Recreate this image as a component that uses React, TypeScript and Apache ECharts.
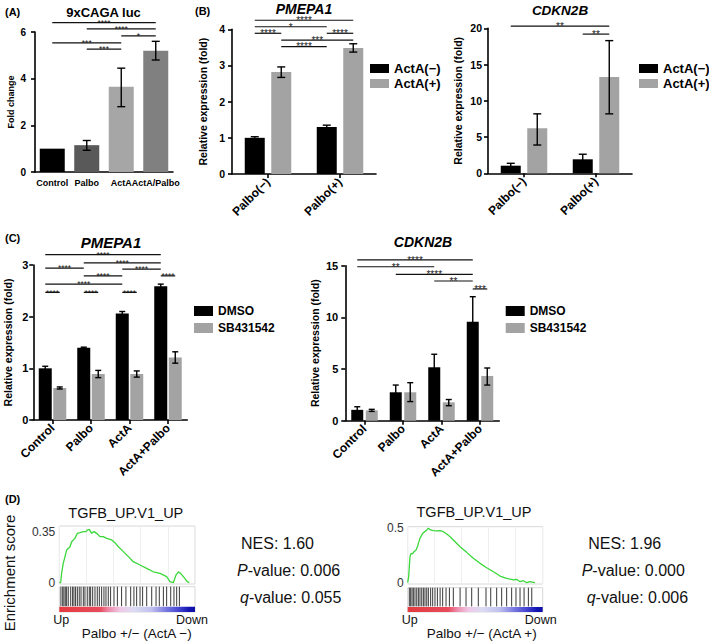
import React, { useEffect, useRef } from "react";
import * as echarts from "echarts";

// ================= DATA =================
// (A) 9xCAGA luc
const aCategories = ["Control", "Palbo", "ActA", "ActA/Palbo"];
const aMeans = [1.0, 1.15, 3.65, 5.2];
const aErrLow = [1.0, 0.93, 2.8, 4.8];
const aErrHigh = [1.0, 1.35, 4.45, 5.6];
// [cat1, series1, cat2, series2, height, label]
const aSig = [
  [0, 0, 3, 0, 6.4, "****"],
  [1, 0, 3, 0, 6.13, "****"],
  [2, 0, 3, 0, 5.83, "*"],
  [0, 0, 2, 0, 5.53, "***"],
  [1, 0, 2, 0, 5.27, "***"],
];

// (B) Palbo +/- ActA
const bCategories = ["Palbo(−)", "Palbo(+)"];
const bSeriesNames = ["ActA(−)", "ActA(+)"];
const bPmepaNegMean = [1.0, 1.3];
const bPmepaNegLow = [0.97, 1.25];
const bPmepaNegHigh = [1.03, 1.35];
const bPmepaPosMean = [2.82, 3.48];
const bPmepaPosLow = [2.67, 3.37];
const bPmepaPosHigh = [2.96, 3.6];
const bPmepaSig = [
  [0, 0, 1, 1, 4.25, "****"],
  [0, 0, 1, 0, 4.07, "*"],
  [0, 0, 0, 1, 3.89, "****"],
  [1, 0, 1, 1, 3.89, "****"],
  [0, 1, 1, 1, 3.7, "***"],
  [0, 1, 1, 0, 3.52, "****"],
];
const bCdknNegMean = [1.05, 1.93];
const bCdknNegLow = [0.72, 1.23];
const bCdknNegHigh = [1.38, 2.63];
const bCdknPosMean = [6.2, 13.3];
const bCdknPosLow = [3.9, 8.2];
const bCdknPosHigh = [8.2, 18.3];
const bCdknSig = [
  [0, 0, 1, 1, 20.3, "**"],
  [1, 0, 1, 1, 19.2, "**"],
];

// (C) DMSO vs SB431542
const cCategories = ["Control", "Palbo", "ActA", "ActA+Palbo"];
const cSeriesNames = ["DMSO", "SB431542"];
const cPmepaDmsoMean = [1.0, 1.4, 2.06, 2.59];
const cPmepaDmsoLow = [0.96, 1.39, 2.02, 2.55];
const cPmepaDmsoHigh = [1.04, 1.41, 2.1, 2.63];
const cPmepaSbMean = [0.62, 0.89, 0.89, 1.21];
const cPmepaSbLow = [0.6, 0.82, 0.83, 1.1];
const cPmepaSbHigh = [0.64, 0.96, 0.95, 1.32];
const cPmepaSig = [
  [0, 0, 3, 0, 3.2, "****"],
  [1, 0, 3, 0, 3.04, "****"],
  [0, 0, 1, 0, 2.94, "****"],
  [2, 0, 3, 0, 2.92, "****"],
  [1, 0, 2, 0, 2.79, "****"],
  [3, 0, 3, 1, 2.79, "****"],
  [0, 0, 2, 0, 2.63, "****"],
  [0, 0, 0, 1, 2.47, "****"],
  [1, 0, 1, 1, 2.47, "****"],
  [2, 0, 2, 1, 2.47, "****"],
];
const cCdknDmsoMean = [1.05, 2.75, 5.17, 9.58];
const cCdknDmsoLow = [0.75, 2.05, 3.9, 7.15];
const cCdknDmsoHigh = [1.35, 3.45, 6.43, 12.0];
const cCdknSbMean = [1.0, 2.75, 1.78, 4.33];
const cCdknSbLow = [0.9, 1.85, 1.45, 3.45];
const cCdknSbHigh = [1.1, 3.68, 2.05, 5.1];
const cCdknSig = [
  [0, 0, 3, 0, 15.56, "****"],
  [0, 0, 2, 0, 14.9, "**"],
  [1, 0, 3, 0, 14.17, "****"],
  [2, 0, 3, 0, 13.52, "**"],
  [3, 0, 3, 1, 12.75, "***"],
];

// (D) GSEA TGFB_UP.V1_UP
const dLeftRank = [0, 1.0, 1.7, 2.9, 4.2, 5.4, 7.9, 9.1, 11.5, 13.3, 15.2, 17.7, 19.7, 20.6, 22.1, 23.8, 25.6, 27.5, 30, 32.4, 34.9, 38.6, 41, 43.5, 47.2, 50.9, 54.5, 59.5, 64.4, 69.3, 74.2, 79.1, 81.6, 84, 86, 87.7, 89.4, 91.4, 94.3, 95.8];
const dLeftES = [0, 0.0, 0.065, 0.134, 0.181, 0.227, 0.25, 0.285, 0.308, 0.343, 0.348, 0.355, 0.355, 0.366, 0.371, 0.343, 0.355, 0.343, 0.32, 0.32, 0.308, 0.297, 0.278, 0.25, 0.216, 0.181, 0.146, 0.123, 0.1, 0.076, 0.065, 0.042, 0.007, 0.0, 0.053, 0.076, 0.065, 0.042, 0.007, 0.0];
const dLeftHits = [1.2, 2.5, 3.4, 4.4, 5.4, 6.6, 8.4, 9.8, 10.8, 12, 13.3, 14.7, 16, 17.7, 18.9, 20.6, 22.1, 23.1, 24.6, 26.3, 28, 29.5, 31.2, 32.9, 34.4, 36.1, 37.8, 40.3, 42.8, 45.9, 49.1, 52.6, 55, 57, 59.5, 61.4, 64.4, 68.1, 71.3, 73.7, 76.7, 79.1, 82.1, 84.5, 86.5, 88.5];
const dLeftStats = ["NES: 1.60", "{i|P}-value: 0.006", "{i|q}-value: 0.055"];

const dRightRank = [0, 0.7, 1.2, 1.7, 2.5, 3.5, 4.7, 6.2, 7.2, 7.9, 9.1, 10.4, 11.6, 13.6, 15.3, 17, 19, 21.5, 24, 26.4, 28.9, 31.4, 35.1, 38.8, 43.7, 48.6, 53.6, 58.5, 63.5, 68.4, 73.3, 78.3, 80.7, 83.2, 85.7, 88.1, 90.6, 93.1, 94.3];
const dRightES = [0, 0.055, 0.147, 0.239, 0.27, 0.264, 0.285, 0.3, 0.331, 0.362, 0.408, 0.439, 0.46, 0.479, 0.5, 0.485, 0.479, 0.476, 0.479, 0.469, 0.448, 0.423, 0.377, 0.331, 0.279, 0.224, 0.178, 0.138, 0.101, 0.061, 0.04, 0.025, 0.031, 0.009, 0.018, 0.0, 0.009, 0.003, 0.0];
const dRightHits = [1.2, 2.2, 3.2, 4.2, 5.4, 6.7, 7.9, 9.1, 10.4, 11.6, 12.8, 14.1, 15.3, 17, 18.5, 20.2, 22, 24, 25.9, 28.4, 30.9, 33.8, 38.8, 43.2, 47.4, 52.3, 58, 61.5, 65.9, 69.6, 73.3, 77, 80.2, 83.2, 86.2, 89.4, 91.9];
const dRightStats = ["NES: 1.96", "{i|P}-value: 0.000", "{i|q}-value: 0.006"];

// ================= STYLE =================
const FONT = "'Liberation Sans', Arial, Helvetica, sans-serif";
const BLACK = "#000000";
const GRAY = "#a3a3a3";
const aColors = ["#000000", "#595959", "#a6a6a6", "#808080"];

type SeriesDef = { name?: string; color: string; colors?: string[]; mean: number[]; lo: number[]; hi: number[] };
type PanelDef = {
  cats: string[];
  series: SeriesDef[];
  sig: any[];
  grid: { left: number; top: number; width: number; height: number };
  yMax: number;
  yInterval: number;
  yName: string;
  nameGap: number;
  nameSize: number;
  barW: number;
  gapPx: number;
  rotate: number;
  labelSize: number;
  labelMargin: number;
  tickSize: number;
  tickMargin: number;
  starSize: number;
  showXTicks: boolean;
  capW: number;
};

function buildOption() {
  const grids: any[] = [];
  const xAxes: any[] = [];
  const yAxes: any[] = [];
  const series: any[] = [];

  const axisLineStyle = { color: "#000", width: 1.6 };

  function addBarPanel(p: PanelDef) {
    const gi = grids.length;
    grids.push({ ...p.grid });
    xAxes.push({
      type: "category",
      gridIndex: gi,
      data: p.cats,
      axisLine: { lineStyle: axisLineStyle },
      axisTick: { show: p.showXTicks, alignWithLabel: true, length: 4, lineStyle: axisLineStyle },
      axisLabel: {
        interval: 0,
        rotate: p.rotate,
        margin: p.labelMargin,
        color: "#000",
        fontWeight: "bold",
        fontSize: p.labelSize,
        fontFamily: FONT,
      },
      splitLine: { show: false },
    });
    yAxes.push({
      type: "value",
      gridIndex: gi,
      min: 0,
      max: p.yMax,
      interval: p.yInterval,
      axisLine: { show: true, lineStyle: axisLineStyle },
      axisTick: { show: true, length: 4, lineStyle: axisLineStyle },
      axisLabel: { color: "#000", fontWeight: "bold", fontSize: p.tickSize, fontFamily: FONT, margin: p.tickMargin },
      splitLine: { show: false },
      name: p.yName,
      nameLocation: "middle",
      nameGap: p.nameGap,
      nameTextStyle: { color: "#000", fontWeight: "bold", fontSize: p.nameSize, fontFamily: FONT },
    });
    const n = p.series.length;
    const step = p.barW + p.gapPx;
    const offOf = (si: number) => (si - (n - 1) / 2) * step;
    p.series.forEach((s, si) => {
      series.push({
        type: "bar",
        name: s.name,
        xAxisIndex: gi,
        yAxisIndex: gi,
        barWidth: p.barW,
        barGap: (p.gapPx / p.barW) * 100 + "%",
        itemStyle: { color: s.color },
        silent: true,
        data: s.mean.map((v, i) => (s.colors ? { value: v, itemStyle: { color: s.colors[i] } } : v)),
      });
      const off = offOf(si);
      const lo = s.lo;
      const hi = s.hi;
      series.push({
        type: "custom",
        xAxisIndex: gi,
        yAxisIndex: gi,
        silent: true,
        z: 5,
        encode: { x: 0, y: [1, 2] },
        data: lo.map((l, i) => [i, l, hi[i]]),
        renderItem: (params: any, api: any) => {
          const c = api.value(0);
          const l = api.value(1);
          const h = api.value(2);
          if (h - l <= 0) return { type: "group", children: [] };
          const a = api.coord([c, l]);
          const b = api.coord([c, h]);
          const x = a[0] + off;
          const cw = p.capW / 2;
          const st = { stroke: "#000", lineWidth: 1.4 };
          return {
            type: "group",
            children: [
              { type: "line", shape: { x1: x, y1: a[1], x2: x, y2: b[1] }, style: st },
              { type: "line", shape: { x1: x - cw, y1: b[1], x2: x + cw, y2: b[1] }, style: st },
              { type: "line", shape: { x1: x - cw, y1: a[1], x2: x + cw, y2: a[1] }, style: st },
            ],
          };
        },
      });
    });
    series.push({
      type: "custom",
      xAxisIndex: gi,
      yAxisIndex: gi,
      silent: true,
      z: 6,
      clip: false,
      encode: { x: 0, y: 1 },
      data: p.sig.map((s) => [s[0], s[4]]),
      renderItem: (params: any, api: any) => {
        const s = p.sig[params.dataIndex];
        const p1 = api.coord([s[0], s[4]]);
        const p2 = api.coord([s[2], s[4]]);
        const x1 = p1[0] + offOf(s[1]);
        const x2 = p2[0] + offOf(s[3]);
        const y = p1[1];
        return {
          type: "group",
          children: [
            { type: "line", shape: { x1, y1: y, x2, y2: y }, style: { stroke: "#111", lineWidth: 1.2 } },
            {
              type: "text",
              x: (x1 + x2) / 2,
              y: y + 0.3,
              style: {
                text: s[5],
                fill: "#1a1a1a",
                fontSize: p.starSize,
                fontFamily: FONT,
                align: "center",
                verticalAlign: "middle",
              },
            },
          ],
        };
      },
    });
  }

  // ---------- (A)
  addBarPanel({
    cats: aCategories,
    series: [{ color: aColors[0], colors: aColors, mean: aMeans, lo: aErrLow, hi: aErrHigh }],
    sig: aSig,
    grid: { left: 35, top: 32, width: 138, height: 140 },
    yMax: 6,
    yInterval: 2,
    yName: "Fold change",
    nameGap: 20,
    nameSize: 9,
    barW: 25,
    gapPx: 0,
    rotate: 0,
    labelSize: 9,
    labelMargin: 6,
    tickSize: 10,
    tickMargin: 9,
    starSize: 8.5,
    showXTicks: false,
    capW: 8,
  });
  // ---------- (B) PMEPA1
  const bCommon = {
    cats: bCategories,
    yName: "Relative expression (fold)",
    nameGap: 24,
    nameSize: 10.5,
    barW: 20,
    gapPx: 6.5,
    rotate: 45,
    labelSize: 12,
    labelMargin: 6,
    tickSize: 10.5,
    tickMargin: 7,
    starSize: 10,
    showXTicks: true,
    capW: 8,
  };
  addBarPanel({
    ...bCommon,
    series: [
      { name: bSeriesNames[0], color: BLACK, mean: bPmepaNegMean, lo: bPmepaNegLow, hi: bPmepaNegHigh },
      { name: bSeriesNames[1], color: GRAY, mean: bPmepaPosMean, lo: bPmepaPosLow, hi: bPmepaPosHigh },
    ],
    sig: bPmepaSig,
    grid: { left: 232, top: 29.3, width: 144, height: 144.7 },
    yMax: 4,
    yInterval: 1,
  });
  addBarPanel({
    ...bCommon,
    nameGap: 25,
    tickMargin: 6,
    series: [
      { name: bSeriesNames[0], color: BLACK, mean: bCdknNegMean, lo: bCdknNegLow, hi: bCdknNegHigh },
      { name: bSeriesNames[1], color: GRAY, mean: bCdknPosMean, lo: bCdknPosLow, hi: bCdknPosHigh },
    ],
    sig: bCdknSig,
    grid: { left: 488, top: 28.3, width: 144, height: 145 },
    yMax: 20,
    yInterval: 5,
  });
  // ---------- (C)
  const cCommon = {
    cats: cCategories,
    yName: "Relative expression (fold)",
    nameSize: 10.5,
    gapPx: 1.5,
    rotate: 45,
    labelSize: 12,
    labelMargin: 6,
    tickSize: 11,
    starSize: 8.5,
    showXTicks: true,
    capW: 6,
  };
  addBarPanel({
    ...cCommon,
    series: [
      { name: cSeriesNames[0], color: BLACK, mean: cPmepaDmsoMean, lo: cPmepaDmsoLow, hi: cPmepaDmsoHigh },
      { name: cSeriesNames[1], color: GRAY, mean: cPmepaSbMean, lo: cPmepaSbLow, hi: cPmepaSbHigh },
    ],
    sig: cPmepaSig,
    grid: { left: 33.25, top: 265, width: 154, height: 155 },
    yMax: 3,
    yInterval: 1,
    nameGap: 20,
    barW: 13,
    tickMargin: 5,
  });
  addBarPanel({
    ...cCommon,
    series: [
      { name: cSeriesNames[0], color: BLACK, mean: cCdknDmsoMean, lo: cCdknDmsoLow, hi: cCdknDmsoHigh },
      { name: cSeriesNames[1], color: GRAY, mean: cCdknSbMean, lo: cCdknSbLow, hi: cCdknSbHigh },
    ],
    sig: cCdknSig,
    grid: { left: 345.25, top: 265.7, width: 154, height: 155 },
    yMax: 15,
    yInterval: 5,
    nameGap: 25,
    barW: 12,
    gapPx: 2.5,
    tickMargin: 7,
    starSize: 10,
  });

  // ---------- (D) GSEA
  function addGsea(
    rank: number[],
    es: number[],
    hits: number[],
    esGrid: any,
    hitGrid: any,
    yMin: number,
    yMax: number,
    yLabels: number[]
  ) {
    const gi = grids.length;
    grids.push({ ...esGrid, show: true, borderColor: "#d8d8d8", borderWidth: 1 });
    xAxes.push({
      type: "value",
      gridIndex: gi,
      min: 0,
      max: 100,
      interval: 20,
      axisLine: { show: false },
      axisTick: { show: false },
      axisLabel: { show: false },
      splitLine: { show: true, lineStyle: { color: "#efefef", width: 1 } },
    });
    yAxes.push({
      type: "value",
      gridIndex: gi,
      min: yMin,
      max: yMax,
      axisLine: { show: false },
      axisTick: { show: false },
      splitLine: { show: false },
      axisLabel: {
        customValues: yLabels,
        color: "#333",
        fontSize: 12,
        fontFamily: FONT,
        margin: 4,
      },
    });
    series.push({
      type: "line",
      xAxisIndex: gi,
      yAxisIndex: gi,
      showSymbol: false,
      silent: true,
      lineStyle: { color: "#3ad83a", width: 1.3 },
      itemStyle: { color: "#3ad83a" },
      data: rank.map((r, i) => [r, es[i]]),
    });
    const hi = grids.length;
    grids.push({ ...hitGrid, show: true, borderColor: "#d8d8d8", borderWidth: 1 });
    xAxes.push({ type: "value", gridIndex: hi, min: 0, max: 100, show: false });
    yAxes.push({ type: "value", gridIndex: hi, min: 0, max: 1, show: false });
    series.push({
      type: "custom",
      xAxisIndex: hi,
      yAxisIndex: hi,
      silent: true,
      encode: { x: 0, y: 1 },
      data: [[0, 0.21, 100]],
      renderItem: (params: any, api: any) => {
        const a = api.coord([api.value(0), api.value(1)]);
        const b = api.coord([api.value(2), 0]);
        return {
          type: "rect",
          shape: { x: a[0], y: a[1], width: b[0] - a[0], height: b[1] - a[1] },
          style: {
            fill: new echarts.graphic.LinearGradient(0, 0, 1, 0, [
              { offset: 0, color: "#e5393f" },
              { offset: 0.3, color: "#e84b5c" },
              { offset: 0.37, color: "#ee8fb0" },
              { offset: 0.45, color: "#f0c8e6" },
              { offset: 0.55, color: "#dcdcf4" },
              { offset: 0.68, color: "#c0c0ef" },
              { offset: 0.78, color: "#7d7de3" },
              { offset: 0.88, color: "#4545d2" },
              { offset: 0.96, color: "#1212b0" },
              { offset: 1, color: "#1010a8" },
            ]),
          },
        };
      },
    });
    series.push({
      type: "custom",
      xAxisIndex: hi,
      yAxisIndex: hi,
      silent: true,
      encode: { x: 0, y: 1 },
      data: hits.map((h) => [h, 1]),
      renderItem: (params: any, api: any) => {
        const t = api.coord([api.value(0), 1]);
        const b = api.coord([api.value(0), 0.23]);
        return {
          type: "line",
          shape: { x1: t[0], y1: t[1], x2: b[0], y2: b[1] },
          style: { stroke: "#222", lineWidth: 0.9 },
        };
      },
    });
  }
  addGsea(
    dLeftRank,
    dLeftES,
    dLeftHits,
    { left: 59.3, top: 526, width: 135.7, height: 58 },
    { left: 59.3, top: 586.7, width: 135.7, height: 25.3 },
    -0.009,
    0.394,
    [0, 0.35]
  );
  addGsea(
    dRightRank,
    dRightES,
    dRightHits,
    { left: 407.7, top: 526.7, width: 135, height: 57.3 },
    { left: 407.7, top: 587.7, width: 135, height: 24.3 },
    -0.012,
    0.515,
    [0, 0.5]
  );

  // ---------- texts
  const txt = (text: string, x: number, y: number, size: number, opts: any = {}) => ({
    type: "text",
    x,
    y,
    rotation: opts.rotation || 0,
    silent: true,
    style: {
      text,
      fill: opts.fill || "#000",
      fontSize: size,
      fontFamily: FONT,
      fontWeight: opts.weight || "normal",
      fontStyle: opts.style || "normal",
      align: opts.align || "left",
      verticalAlign: "middle",
      rich: opts.rich,
    },
  });
  const richI = (size: number) => ({ i: { fontStyle: "italic", fontSize: size, fontFamily: FONT, fill: "#111" } });

  const elements = [
    txt("(A)", 5, 11.5, 11, { weight: "bold" }),
    txt("9xCAGA luc", 103.5, 12, 13, { weight: "bold", align: "center" }),
    txt("(B)", 195, 11, 11, { weight: "bold" }),
    txt("PMEPA1", 304, 8.5, 14, { weight: "bold", style: "italic", align: "center" }),
    txt("CDKN2B", 560, 10, 13.5, { weight: "bold", style: "italic", align: "center" }),
    txt("(C)", 5, 237.5, 11, { weight: "bold" }),
    txt("PMEPA1", 111, 242.5, 15, { weight: "bold", style: "italic", align: "center" }),
    txt("CDKN2B", 423, 242, 14, { weight: "bold", style: "italic", align: "center" }),
    txt("(D)", 5, 499, 11, { weight: "bold" }),
    txt("TGFB_UP.V1_UP", 125.8, 512.7, 14.5, { align: "center", fill: "#111" }),
    txt("TGFB_UP.V1_UP", 474, 512, 14.5, { align: "center", fill: "#111" }),
    txt("Enrichment score", 9.5, 573, 15, { align: "center", rotation: Math.PI / 2, fill: "#111" }),
    txt("Up", 53.3, 619.5, 12.5, { fill: "#111" }),
    txt("Down", 208, 619.5, 12.5, { align: "right", fill: "#111" }),
    txt("Palbo +/− (ActA −)", 136.7, 633, 13.5, { align: "center", fill: "#111" }),
    txt("Up", 401.7, 619.5, 12.5, { fill: "#111" }),
    txt("Down", 556.7, 619.5, 12.5, { align: "right", fill: "#111" }),
    txt("Palbo +/− (ActA +)", 481.7, 633, 13.5, { align: "center", fill: "#111" }),
    txt(dLeftStats[0], 241, 543.3, 16, { fill: "#111" }),
    txt(dLeftStats[1], 237, 570.7, 16, { fill: "#111", rich: richI(16) }),
    txt(dLeftStats[2], 240, 597.3, 16, { fill: "#111", rich: richI(16) }),
    txt(dRightStats[0], 588.3, 543.3, 16, { fill: "#111" }),
    txt(dRightStats[1], 581.7, 570.7, 16, { fill: "#111", rich: richI(16) }),
    txt(dRightStats[2], 586.7, 597.3, 16, { fill: "#111", rich: richI(16) }),
  ];

  const legendBase = {
    orient: "vertical",
    padding: 0,
    itemWidth: 19,
    itemGap: 1,
    icon: "rect",
    selectedMode: false,
  };
  const legends = [
    { ...legendBase, data: bSeriesNames, left: 370, top: 61.5, itemHeight: 9, textStyle: { fontWeight: "bold", fontSize: 13, fontFamily: FONT, color: "#000", lineHeight: 14 } },
    { ...legendBase, data: bSeriesNames, left: 639, top: 61.5, itemHeight: 9, textStyle: { fontWeight: "bold", fontSize: 13, fontFamily: FONT, color: "#000", lineHeight: 14 } },
    { ...legendBase, data: cSeriesNames, left: 194, top: 304, itemHeight: 10, itemGap: 3, textStyle: { fontWeight: "bold", fontSize: 12, fontFamily: FONT, color: "#000", lineHeight: 14 } },
    { ...legendBase, data: cSeriesNames, left: 505.7, top: 304, itemHeight: 10, itemGap: 3, textStyle: { fontWeight: "bold", fontSize: 12, fontFamily: FONT, color: "#000", lineHeight: 14 } },
  ];

  return {
    animation: false,
    backgroundColor: "#ffffff",
    textStyle: { fontFamily: FONT },
    grid: grids,
    xAxis: xAxes,
    yAxis: yAxes,
    legend: legends,
    series,
    graphic: { elements },
  };
}

export default function App() {
  const ref = useRef<HTMLDivElement>(null);
  useEffect(() => {
    if (!ref.current) return;
    const chart = echarts.init(ref.current, null, { renderer: "svg" });
    chart.setOption(buildOption() as any);
    return () => chart.dispose();
  }, []);
  return (
    <div
      ref={ref}
      style={{ position: "absolute", left: 0, top: 0, width: 709, height: 642, background: "#fff" }}
    />
  );
}
